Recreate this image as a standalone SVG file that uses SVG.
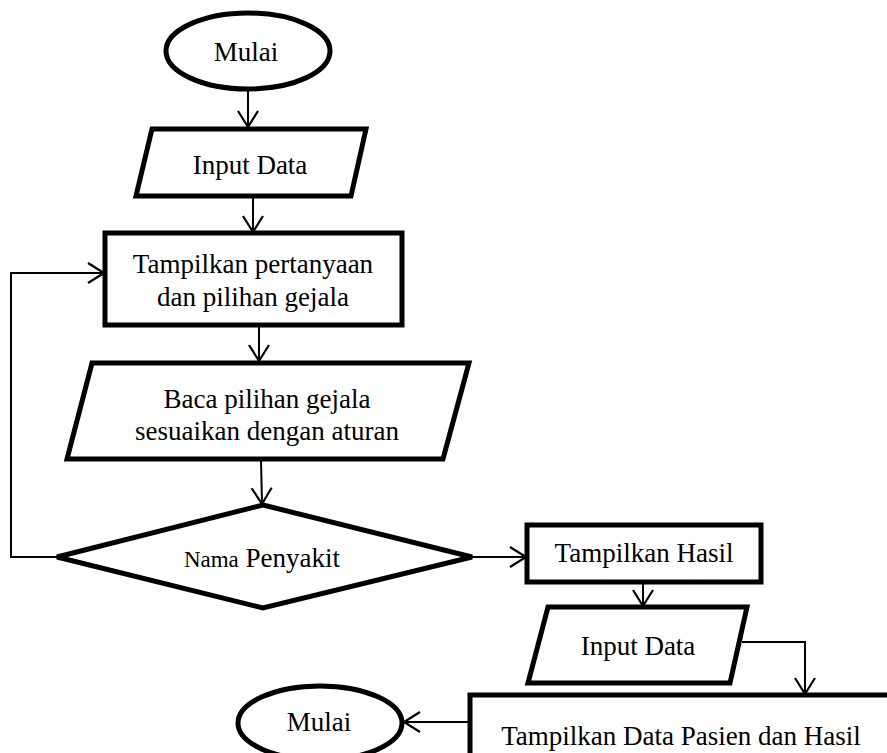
<svg xmlns="http://www.w3.org/2000/svg" width="887" height="753" viewBox="0 0 887 753">
<defs>
<marker id="arr" markerUnits="userSpaceOnUse" markerWidth="24" markerHeight="24" viewBox="-20 -12 24 24" refX="0" refY="0" orient="auto">
<path d="M-16,-10 L0,0 L-16,10" fill="none" stroke="#000" stroke-width="2.2"/>
</marker>
<style>
.shape{fill:#fff;stroke:#000;stroke-width:5;stroke-linejoin:miter}
.conn{fill:none;stroke:#000;stroke-width:2}
text{font-family:"Liberation Serif","Times New Roman",serif;font-size:27px;fill:#000;text-anchor:middle}
</style>
</defs>
<rect width="887" height="753" fill="#fff"/>
<g id="connectors">
<line class="conn" x1="248" y1="90" x2="248" y2="127" marker-end="url(#arr)"/>
<line class="conn" x1="253" y1="197" x2="253" y2="232" marker-end="url(#arr)"/>
<line class="conn" x1="259" y1="327" x2="259" y2="361" marker-end="url(#arr)"/>
<line class="conn" x1="261" y1="460" x2="262" y2="504" marker-end="url(#arr)"/>
<polyline class="conn" points="57,557 11,557 11,273 104,273" marker-end="url(#arr)"/>
<line class="conn" x1="472" y1="557" x2="526" y2="557" marker-end="url(#arr)"/>
<line class="conn" x1="643" y1="582" x2="643" y2="606" marker-end="url(#arr)"/>
<polyline class="conn" points="742,642 805,642 805,694" marker-end="url(#arr)"/>
<line class="conn" x1="470" y1="722" x2="404" y2="722" marker-end="url(#arr)"/>
</g>
<g id="start">
<ellipse class="shape" cx="248" cy="51" rx="82" ry="38"/>
<text x="246" y="61">Mulai</text>
</g>
<g id="input1">
<polygon class="shape" points="152,129 366,129 351,196 136,196"/>
<text x="250" y="174">Input Data</text>
</g>
<g id="tampilkan-pertanyaan">
<rect class="shape" x="105" y="233" width="297" height="92"/>
<text x="253" y="273">Tampilkan pertanyaan</text>
<text x="253" y="306">dan pilihan gejala</text>
</g>
<g id="baca">
<polygon class="shape" points="92,363 469,363 443,459 67,459"/>
<text x="267" y="408">Baca pilihan gejala</text>
<text x="267" y="440">sesuaikan dengan aturan</text>
</g>
<g id="decision">
<polygon class="shape" points="263,505 472,557 263,608 57,557"/>
<text x="262" y="567"><tspan font-size="23">Nama</tspan> Penyakit</text>
</g>
<g id="tampilkan-hasil">
<rect class="shape" x="527" y="525" width="234" height="57"/>
<text x="644" y="562">Tampilkan Hasil</text>
</g>
<g id="input2">
<polygon class="shape" points="548,607 747,607 730,683 528,683"/>
<text x="638" y="655">Input Data</text>
</g>
<g id="tampilkan-data-pasien">
<rect class="shape" x="470" y="695" width="425" height="80"/>
<text x="681" y="745">Tampilkan Data Pasien dan Hasil</text>
</g>
<g id="end">
<ellipse class="shape" cx="320" cy="723" rx="82" ry="37"/>
<text x="319" y="731">Mulai</text>
</g>
</svg>
